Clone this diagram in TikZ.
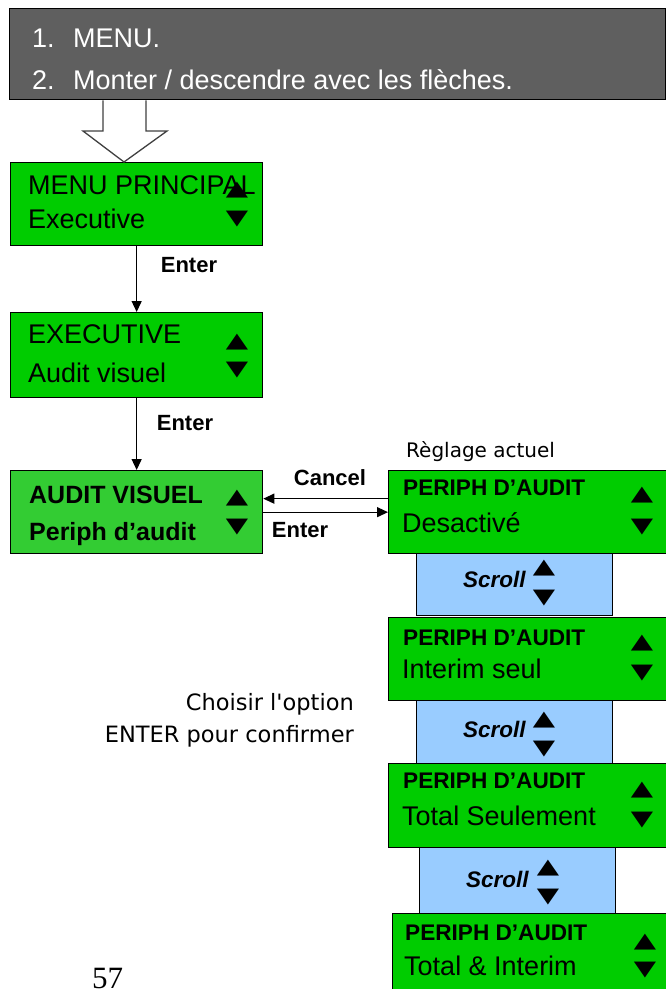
\documentclass[tikz,border=0pt]{standalone}
\usepackage{fontspec}
\usepackage{graphicx}
\setmainfont{Liberation Sans}
\newfontfamily\symfont{DejaVu Sans}
\newfontfamily\pagefont{Liberation Serif}
\usetikzlibrary{positioning, arrows.meta}

\definecolor{lcdgreen}{HTML}{00CC00}
\definecolor{lcdlight}{HTML}{33CC33}
\definecolor{scrollblue}{HTML}{99CCFF}
\definecolor{headgray}{HTML}{5F5F5F}
\definecolor{outlinegray}{HTML}{404040}

\newcommand{\upmark}{\scalebox{1}[0.72]{▲}}
\newcommand{\dnmark}{\scalebox{1}[0.72]{▼}}

\tikzset{
  lcd/.style={draw=black, line width=1.3pt, fill=lcdgreen, anchor=north west, inner sep=0pt},
  scrollbox/.style={draw=black, line width=1.3pt, fill=scrollblue, anchor=north west, inner sep=0pt},
  txt/.style={anchor=base west, inner sep=0pt, font=\fontsize{27pt}{30pt}\selectfont},
  boldtxt/.style={anchor=base west, inner sep=0pt, font=\bfseries\fontsize{22.6pt}{25pt}\selectfont},
  scrolltxt/.style={anchor=base west, inner sep=0pt, font=\bfseries\itshape\fontsize{22.5pt}{25pt}\selectfont},
  keylabel/.style={inner sep=0pt, font=\bfseries\fontsize{22pt}{24pt}\selectfont},
  note/.style={inner sep=0pt, font=\symfont\fontsize{22.5pt}{25pt}\selectfont},
  updown/.style={inner sep=0pt, font=\symfont\fontsize{29pt}{30pt}\selectfont},
  link/.style={line width=1.3pt, -{Triangle[length=11pt,width=10pt]}},
  hollow/.style={line width=1.3pt, draw=outlinegray, fill=white},
}

\begin{document}
\begin{tikzpicture}[x=1pt, y=-1pt]
    \useasboundingbox (0,0) rectangle (666,989);

    % instructions
    \node[draw=black, line width=1.3pt, fill=headgray, anchor=north west, minimum width=656pt, minimum height=91pt, inner sep=0pt] (steps) at (9,8) {};
    \node[txt, text=white] (num1) at (32,47) {1.};
    \node[txt, text=white] (step1) at (73,47) {MENU.};
    \node[txt, text=white] (num2) at (32,89) {2.};
    \node[txt, text=white] (step2) at (73,89) {Monter / descendre avec les flèches.};

    % left column
    \node[lcd, minimum width=252pt, minimum height=83pt] (menu) at (10,162) {};
    \node[txt] (menu1) at (28,194) {MENU PRINCIPAL};
    \node[txt] (menu2) at (28,228) {Executive};
    \node[updown] (menuup) at (237,190) {\upmark};
    \node[updown] (menudn) at (237,219) {\dnmark};

    \node[lcd, minimum width=252pt, minimum height=85pt] (exec) at (10,312) {};
    \node[txt] (exec1) at (28,343) {EXECUTIVE};
    \node[txt] (exec2) at (28,382) {Audit visuel};
    \node[updown] (execup) at (237,342) {\upmark};
    \node[updown] (execdn) at (237,370) {\dnmark};

    \node[lcd, fill=lcdlight, minimum width=252pt, minimum height=83pt] (audit) at (10,470) {};
    \node[boldtxt, font=\bfseries\fontsize{25pt}{27pt}\selectfont] (audit1) at (29,503) {AUDIT VISUEL};
    \node[boldtxt, font=\bfseries\fontsize{25pt}{27pt}\selectfont] (audit2) at (29,540) {Periph d’audit};
    \node[updown] (auditup) at (237,498) {\upmark};
    \node[updown] (auditdn) at (237,527) {\dnmark};

    % hollow arrow
    \draw[hollow] (103,0 |- steps.south) -- (103,131) -- (83,131) -- (124,0 |- menu.north) -- (167,131) -- (146,131) -- (146,0 |- steps.south);

    % right column
    \node[note, anchor=base west, font=\symfont\fontsize{20pt}{22pt}\selectfont] (current) at (406,457) {Règlage actuel};

    \node[lcd, minimum width=290pt, minimum height=83pt] (p1) at (388,470) {};
    \node[boldtxt] (p1a) at (403,495) {PERIPH D’AUDIT};
    \node[txt] (p1b) at (402,532) {Desactivé};
    \node[updown] (p1up) at (642,495) {\upmark};
    \node[updown] (p1dn) at (642,527) {\dnmark};

    \node[scrollbox, minimum width=196pt, minimum height=62pt] (s1) at (416,553) {};
    \node[scrolltxt] (s1a) at (463,587) {Scroll};
    \node[updown] (s1up) at (544,568) {\upmark};
    \node[updown] (s1dn) at (544,598) {\dnmark};

    \node[lcd, minimum width=290pt, minimum height=83pt] (p2) at (388,617) {};
    \node[boldtxt] (p2a) at (403,645) {PERIPH D’AUDIT};
    \node[txt] (p2b) at (402,678) {Interim seul};
    \node[updown] (p2up) at (642,643) {\upmark};
    \node[updown] (p2dn) at (642,673) {\dnmark};

    \node[scrollbox, minimum width=196pt, minimum height=63pt] (s2) at (416,700) {};
    \node[scrolltxt] (s2a) at (463,737) {Scroll};
    \node[updown] (s2up) at (544,720) {\upmark};
    \node[updown] (s2dn) at (544,749) {\dnmark};

    \node[lcd, minimum width=290pt, minimum height=84pt] (p3) at (388,763) {};
    \node[boldtxt] (p3a) at (403,788) {PERIPH D’AUDIT};
    \node[txt] (p3b) at (402,825) {Total Seulement};
    \node[updown] (p3up) at (642,790) {\upmark};
    \node[updown] (p3dn) at (642,820) {\dnmark};

    \node[scrollbox, minimum width=196pt, minimum height=66pt] (s3) at (419,847) {};
    \node[scrolltxt] (s3a) at (466,887) {Scroll};
    \node[updown] (s3up) at (548,868) {\upmark};
    \node[updown] (s3dn) at (548,897) {\dnmark};

    \node[lcd, minimum width=290pt, minimum height=82pt] (p4) at (392,913) {};
    \node[boldtxt] (p4a) at (405,940) {PERIPH D’AUDIT};
    \node[txt] (p4b) at (404,975) {Total \& Interim};
    \node[updown] (p4up) at (645,942) {\upmark};
    \node[updown] (p4dn) at (645,970) {\dnmark};

    % connectors
    \draw[link] (menu) -- (exec);
    \draw[link] (exec) -- (audit);
    \draw[link] ([yshift=13.5pt]p1.west) -- ([yshift=13.5pt]audit.east);
    \draw[link] (audit.east) -- (p1.west);
    \node[keylabel] (enter1) at (189,265) {Enter};
    \node[keylabel] (enter2) at (185,423) {Enter};
    \node[keylabel] (cancel) at (330,478) {Cancel};
    \node[keylabel] (enter3) at (300,530) {Enter};

    \node[note, anchor=base east] (choose) at (354,710) {Choisir l\textquotesingle option};
    \node[note, anchor=base east] (confirm) at (354,742) {ENTER pour confirmer};

    \node[anchor=base west, inner sep=0pt, font=\pagefont\fontsize{31pt}{31pt}\selectfont] (pagenum) at (92,988) {57};
\end{tikzpicture}
\end{document}
